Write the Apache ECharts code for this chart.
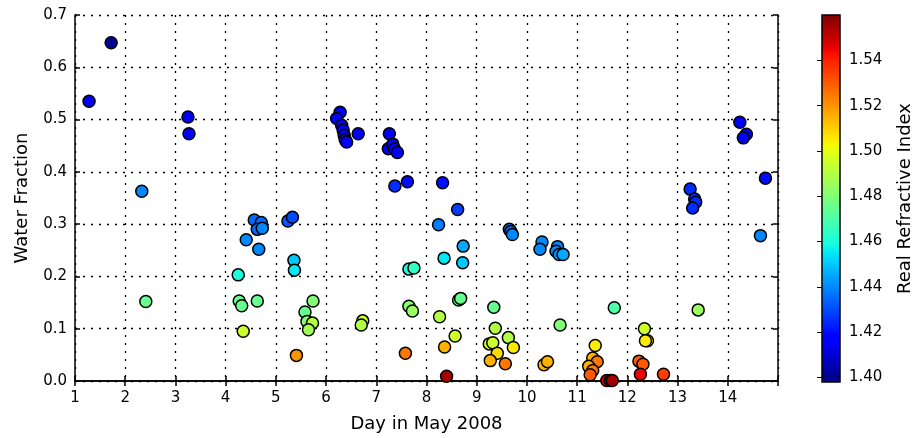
<!DOCTYPE html>
<html>
<head>
<meta charset="utf-8">
<script src="https://cdn.jsdelivr.net/npm/echarts@6/dist/echarts.min.js"></script>
<style>html,body{margin:0;padding:0;background:#fff}#c{width:916px;height:438px}</style>
</head>
<body>
<div id="c"></div>
<script>
// Day in May 2008
const days = [1.28,1.72,3.25,3.27,2.33,2.41,4.57,4.71,4.63,4.73,4.41,4.66,5.24,5.33,5.36,5.37,4.25,4.27,4.32,4.63,4.35,5.74,5.58,5.62,5.73,5.65,5.41,
6.28,6.21,6.31,6.34,6.36,6.38,6.41,6.64,7.26,7.24,7.33,7.36,7.42,7.37,7.62,8.32,8.62,8.24,8.73,8.35,8.72,7.65,7.75,8.64,8.68,7.65,7.72,8.26,6.73,6.70,8.57,8.36,7.58,8.40,
9.34,9.37,9.25,9.32,9.63,9.73,9.41,9.27,9.57,9.65,9.68,9.71,10.30,10.26,10.61,10.58,10.64,10.72,10.66,10.34,10.41,
14.24,14.37,14.31,14.75,13.25,13.34,13.36,13.30,14.65,11.74,13.41,12.34,12.40,12.36,11.36,12.23,12.31,12.26,12.72,11.31,11.40,11.23,11.31,11.26,11.59,11.66,11.70];
// Water Fraction
const water = [0.535,0.647,0.505,0.473,0.363,0.152,0.308,0.303,0.290,0.292,0.270,0.252,0.306,0.313,0.231,0.212,0.203,0.153,0.144,0.153,0.095,0.153,0.132,0.114,0.111,0.098,0.049,
0.514,0.502,0.489,0.480,0.470,0.462,0.457,0.473,0.473,0.444,0.453,0.444,0.437,0.373,0.381,0.379,0.328,0.299,0.258,0.235,0.226,0.214,0.216,0.155,0.158,0.143,0.134,0.123,0.115,0.107,0.086,0.065,0.053,0.009,
0.141,0.101,0.071,0.073,0.083,0.064,0.053,0.039,0.033,0.290,0.286,0.280,0.266,0.252,0.257,0.248,0.242,0.242,0.107,0.031,0.037,
0.495,0.472,0.465,0.388,0.367,0.348,0.342,0.331,0.278,0.140,0.136,0.100,0.077,0.077,0.068,0.038,0.032,0.013,0.013,0.044,0.037,0.028,0.020,0.012,0.001,0.001,0.001];
// Real Refractive Index
const refr = [1.415,1.401,1.415,1.415,1.440,1.475,1.435,1.435,1.435,1.440,1.440,1.440,1.432,1.430,1.450,1.455,1.460,1.475,1.475,1.475,1.495,1.480,1.475,1.480,1.490,1.487,1.520,
1.415,1.415,1.415,1.415,1.415,1.415,1.415,1.415,1.415,1.415,1.415,1.415,1.415,1.425,1.420,1.420,1.428,1.438,1.445,1.455,1.450,1.460,1.465,1.475,1.475,1.482,1.485,1.490,1.495,1.490,1.495,1.515,1.525,1.555,
1.475,1.490,1.497,1.495,1.490,1.505,1.508,1.515,1.525,1.435,1.435,1.440,1.440,1.440,1.440,1.440,1.440,1.445,1.480,1.515,1.515,
1.415,1.415,1.415,1.420,1.425,1.425,1.425,1.425,1.440,1.470,1.485,1.495,1.505,1.505,1.505,1.530,1.530,1.545,1.535,1.515,1.525,1.515,1.525,1.530,1.550,1.555,1.555];
const xTicks = [1,2,3,4,5,6,7,8,9,10,11,12,13,14];
const yTicks = [0.0,0.1,0.2,0.3,0.4,0.5,0.6,0.7];
const cbTicks = [1.40,1.42,1.44,1.46,1.48,1.50,1.52,1.54];

// matplotlib jet colormap
function interp(t, xs, ys){
  for (let i=1;i<xs.length;i++){ if (t<=xs[i]) { const f=(t-xs[i-1])/(xs[i]-xs[i-1]); return ys[i-1]+f*(ys[i]-ys[i-1]); } }
  return ys[ys.length-1];
}
function jet(t){
  const r = interp(t,[0,0.35,0.66,0.89,1],[0,0,1,1,0.5]);
  const g = interp(t,[0,0.125,0.375,0.64,0.91,1],[0,0,1,1,0,0]);
  const b = interp(t,[0,0.11,0.34,0.65,1],[0.5,1,1,0,0]);
  return 'rgb('+Math.round(r*255)+','+Math.round(g*255)+','+Math.round(b*255)+')';
}
const jetColors = [];
for (let i=0;i<=64;i++) jetColors.push(jet(i/64));

const data = days.map((d,i)=>[d, water[i], refr[i]]);
const FONT = 'DejaVu Sans';
const gridLine = {show:true, lineStyle:{color:'#000', type:[2,6], width:1.3}};
const black = {color:'#000', width:1.5};

const chart = echarts.init(document.getElementById('c'), null, {renderer:'canvas'});
chart.setOption({
  animation:false,
  backgroundColor:'#fff',
  textStyle:{fontFamily:FONT},
  grid:[
    {left:75, top:15, width:703, height:367, show:false},
    {left:822, top:15, width:18, height:367, show:true, borderColor:'#000', borderWidth:1.5, backgroundColor:'transparent', z:10}
  ],
  xAxis:[
    {gridIndex:0, type:'value', min:1, max:15, interval:1, position:'bottom',
     name:'Day in May 2008', nameLocation:'middle', nameGap:34,
     nameTextStyle:{fontSize:18, color:'#000', fontFamily:FONT},
     axisLine:{show:true, lineStyle:black}, axisTick:{show:true, inside:true, length:5, lineStyle:black},
     axisLabel:{color:'#000', fontSize:15, margin:10, fontFamily:FONT, formatter:v=> xTicks.includes(v)? String(v):''},
     splitLine:gridLine},
    {gridIndex:0, type:'value', min:1, max:15, interval:1, position:'top',
     axisLine:{show:true, lineStyle:black}, axisTick:{show:true, inside:true, length:5, lineStyle:black},
     axisLabel:{show:false}, splitLine:{show:false}},
    {gridIndex:1, type:'value', min:0, max:1, show:false}
  ],
  yAxis:[
    {gridIndex:0, type:'value', min:0, max:0.7, interval:0.1, position:'left',
     name:'Water Fraction', nameLocation:'middle', nameGap:44,
     nameTextStyle:{fontSize:18, color:'#000', fontFamily:FONT},
     axisLine:{show:true, lineStyle:black}, axisTick:{show:true, inside:true, length:5, lineStyle:black},
     axisLabel:{color:'#000', fontSize:15, margin:8, fontFamily:FONT, formatter:v=>v.toFixed(1)},
     splitLine:gridLine},
    {gridIndex:0, type:'value', min:0, max:0.7, interval:0.1, position:'right',
     axisLine:{show:true, lineStyle:black}, axisTick:{show:true, inside:true, length:5, lineStyle:black},
     axisLabel:{show:false}, splitLine:{show:false}},
    {gridIndex:1, type:'value', min:1.398, max:1.56, position:'right',
     name:'Real Refractive Index', nameLocation:'middle', nameGap:56,
     nameTextStyle:{fontSize:18, color:'#000', fontFamily:FONT},
     axisLine:{show:false}, axisTick:{show:true, inside:true, length:5, lineStyle:{color:'#000', width:1}, customValues:cbTicks},
     axisLabel:{color:'#000', fontSize:15, margin:9, fontFamily:FONT, customValues:cbTicks, formatter:v=>v.toFixed(2)},
     splitLine:{show:false}}
  ],
  visualMap:{
    type:'continuous', min:1.398, max:1.56, dimension:2, seriesIndex:0,
    calculable:false, hoverLink:false, left:822, top:15, itemWidth:18, itemHeight:367, padding:0,
    inRange:{color:jetColors}, text:null, showLabel:false
  },
  series:[{
    type:'scatter', xAxisIndex:0, yAxisIndex:0, data:data, symbolSize:12,
    itemStyle:{borderColor:'#000', borderWidth:1.5, opacity:1}
  }]
});
</script>
</body>
</html>
